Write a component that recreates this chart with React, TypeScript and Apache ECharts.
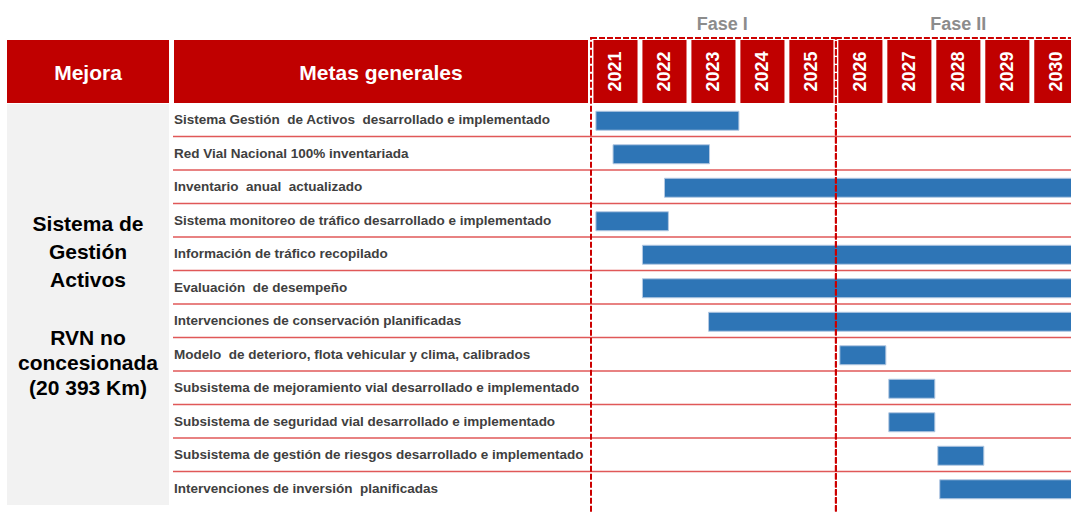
import React, { useEffect, useRef } from "react";
import * as echarts from "echarts";

const years = [2021, 2022, 2023, 2024, 2025, 2026, 2027, 2028, 2029, 2030];

const tasks = [
  "Sistema Gestión  de Activos  desarrollado e implementado",
  "Red Vial Nacional 100% inventariada",
  "Inventario  anual  actualizado",
  "Sistema monitoreo de tráfico desarrollado e implementado",
  "Información de tráfico recopilado",
  "Evaluación  de desempeño",
  "Intervenciones de conservación planificadas",
  "Modelo  de deterioro, flota vehicular y clima, calibrados",
  "Subsistema de mejoramiento vial desarrollado e implementado",
  "Subsistema de seguridad vial desarrollado e implementado",
  "Subsistema de gestión de riesgos desarrollado e implementado",
  "Intervenciones de inversión  planificadas",
];

const barStart = [2021.1, 2021.45, 2022.5, 2021.1, 2022.05, 2022.05, 2023.4, 2026.08, 2027.08, 2027.08, 2028.08, 2028.12];
const barEnd = [2024.02, 2023.42, 2031, 2022.58, 2031, 2031, 2031, 2027.02, 2028.02, 2028.02, 2029.02, 2031];

const phaseNames = ["Fase I", "Fase II"];
const phaseStart = [2021, 2026];
const phaseEnd = [2026, 2031];
const phaseLabelAt = [2023.68, 2028.5];

const headerMejora = "Mejora";
const headerMetas = "Metas generales";
const mejoraText1 = "Sistema de\nGestión\nActivos";
const mejoraText2 = "RVN no\nconcesionada\n(20 393 Km)";

const RED = "#c00000";
const FONT = '"Liberation Sans", Arial, sans-serif';
const X_MIN = 2021;
const X_MAX = 2030.8; // visible edge of the page (49 px per year)

export default function App() {
  const ref = useRef<HTMLDivElement>(null);

  useEffect(() => {
    if (!ref.current) return;
    const chart = echarts.init(ref.current, undefined, { renderer: "svg" });

    const option: any = {
      animation: false,
      backgroundColor: "#ffffff",
      grid: [
        { left: 173, top: 103, width: 418, height: 402 },
        { left: 591, top: 103, width: 480, height: 402 },
        { left: 591, top: 40, width: 480, height: 63 },
      ],
      xAxis: [
        { type: "value", gridIndex: 0, min: 0, max: 1, show: false },
        { type: "value", gridIndex: 1, min: X_MIN, max: X_MAX, show: false },
        { type: "value", gridIndex: 2, min: X_MIN, max: X_MAX, show: false },
      ],
      yAxis: [
        {
          type: "category",
          gridIndex: 0,
          data: tasks,
          inverse: true,
          axisLine: { show: false },
          axisTick: { show: false },
          splitLine: { show: false },
          axisLabel: {
            inside: true,
            margin: 1,
            color: "#404040",
            fontFamily: FONT,
            fontWeight: "bold",
            fontSize: 13.5,
          },
        },
        {
          type: "category",
          gridIndex: 1,
          data: tasks,
          inverse: true,
          show: false,
        },
        { type: "value", gridIndex: 2, min: 0, max: 1, show: false },
      ],
      graphic: [
        { type: "rect", shape: { x: 7, y: 40, width: 162, height: 63 }, style: { fill: RED } },
        { type: "rect", shape: { x: 174, y: 40, width: 414, height: 63 }, style: { fill: RED } },
        { type: "rect", shape: { x: 7, y: 104, width: 162, height: 401 }, style: { fill: "#f2f2f2" } },
        {
          type: "text",
          x: 88,
          y: 72,
          style: { text: headerMejora, fill: "#fff", font: `bold 21px ${FONT}`, align: "center", verticalAlign: "middle" },
        },
        {
          type: "text",
          x: 381,
          y: 72,
          style: { text: headerMetas, fill: "#fff", font: `bold 21px ${FONT}`, align: "center", verticalAlign: "middle" },
        },
        {
          type: "text",
          x: 88,
          y: 251,
          style: {
            text: mejoraText1,
            fill: "#000",
            font: `bold 21px ${FONT}`,
            lineHeight: 28,
            align: "center",
            verticalAlign: "middle",
          },
        },
        {
          type: "text",
          x: 88,
          y: 362,
          style: {
            text: mejoraText2,
            fill: "#000",
            font: `bold 21px ${FONT}`,
            lineHeight: 25,
            align: "center",
            verticalAlign: "middle",
          },
        },
      ],
      series: [
        {
          type: "custom",
          name: "separadores",
          xAxisIndex: 0,
          yAxisIndex: 0,
          clip: false,
          silent: true,
          data: tasks.map((_, i) => [0, i]),
          renderItem: (params: any, api: any) => {
            const i = api.value(1);
            if (i === 0) return null;
            const band = api.size([0, 1])[1];
            const y = api.coord([0, i])[1] - band / 2;
            return {
              type: "line",
              shape: { x1: params.coordSys.x, y1: y, x2: api.getWidth(), y2: y },
              style: { stroke: "#e05858", lineWidth: 1.5 },
            };
          },
        },
        {
          type: "custom",
          name: "años",
          xAxisIndex: 2,
          yAxisIndex: 2,
          silent: true,
          clip: false,
          data: years.map((y) => [y]),
          renderItem: (params: any, api: any) => {
            const yr = api.value(0);
            const p0 = api.coord([yr + 0.05, 1]);
            const p1 = api.coord([yr + 0.95, 0]);
            const cx = (p0[0] + p1[0]) / 2;
            const cy = (p0[1] + p1[1]) / 2;
            return {
              type: "group",
              children: [
                {
                  type: "rect",
                  shape: { x: p0[0], y: p0[1], width: p1[0] - p0[0], height: p1[1] - p0[1] },
                  style: { fill: RED },
                },
                {
                  type: "text",
                  x: cx,
                  y: cy,
                  rotation: Math.PI / 2,
                  style: {
                    text: String(yr),
                    fill: "#fff",
                    font: `bold 18px ${FONT}`,
                    align: "center",
                    verticalAlign: "middle",
                  },
                },
              ],
            };
          },
        },
        {
          type: "custom",
          name: "metas",
          xAxisIndex: 1,
          yAxisIndex: 1,
          silent: true,
          clip: false,
          data: tasks.map((_, i) => [barStart[i], barEnd[i], i]),
          renderItem: (params: any, api: any) => {
            const p0 = api.coord([api.value(0), api.value(2)]);
            const p1 = api.coord([api.value(1), api.value(2)]);
            const h = 19;
            return {
              type: "rect",
              shape: { x: p0[0], y: p0[1] - h / 2 + 1, width: p1[0] - p0[0], height: h },
              style: { fill: "#2e75b6", stroke: "#b4c9e2", lineWidth: 1 },
            };
          },
        },
        {
          type: "custom",
          name: "fases",
          xAxisIndex: 1,
          yAxisIndex: 1,
          clip: false,
          silent: true,
          z: 10,
          data: phaseNames.map((n, i) => [phaseStart[i], phaseEnd[i], phaseLabelAt[i], n]),
          renderItem: (params: any, api: any) => {
            const x0 = api.coord([api.value(0), 0])[0];
            const x1 = api.coord([api.value(1), 0])[0];
            const xl = api.coord([api.value(2), 0])[0];
            const top = params.coordSys.y - 65;
            return {
              type: "group",
              children: [
                {
                  type: "rect",
                  shape: { x: x0, y: top, width: x1 - x0, height: 520 },
                  style: { fill: "none", stroke: "#cc0000", lineWidth: 2, lineDash: [6, 2] },
                },
                {
                  type: "text",
                  x: xl,
                  y: 24,
                  style: {
                    text: phaseNames[params.dataIndex],
                    fill: "#8c8c8c",
                    font: `bold 18px ${FONT}`,
                    align: "center",
                    verticalAlign: "middle",
                  },
                },
              ],
            };
          },
        },
      ],
    };

    chart.setOption(option);
    return () => chart.dispose();
  }, []);

  return (
    <div
      ref={ref}
      style={{ position: "absolute", left: 0, top: 0, width: 1071, height: 513 }}
    />
  );
}
